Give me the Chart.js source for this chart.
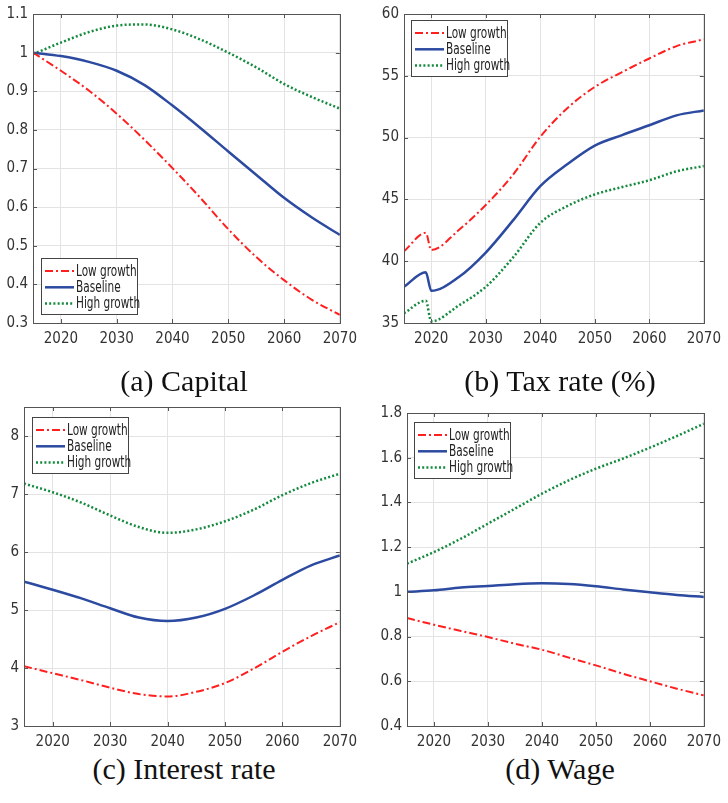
<!DOCTYPE html>
<html lang="en">
<head>
    <meta charset="UTF-8">
    <title>Growth scenarios</title>
    <script src="https://cdn.jsdelivr.net/npm/chart.js"></script>
    <style>
        body { margin: 0; background: #fff; width: 728px; height: 803px; position: relative; overflow: hidden; }
        .panel { position: absolute; width: 364px; height: 360px; }
        .caption { position: absolute; font-family: "Liberation Serif", "DejaVu Serif", serif; font-size: 30px; line-height: 30px; color: #111; transform: translateX(-50%); white-space: nowrap; }
    </style>
</head>
<body>
    <div class="panel" style="left:0;top:0"><canvas id="capital"></canvas></div>
    <div class="panel" style="left:364px;top:0"><canvas id="tax"></canvas></div>
    <div class="panel" style="left:0;top:390px"><canvas id="interest"></canvas></div>
    <div class="panel" style="left:364px;top:390px"><canvas id="wage"></canvas></div>

    <div class="caption" style="left:184px;top:366px">(a) Capital</div>
    <div class="caption" style="left:560px;top:366px">(b) Tax rate (%)</div>
    <div class="caption" style="left:184px;top:754px">(c) Interest rate</div>
    <div class="caption" style="left:560px;top:754px">(d) Wage</div>

    <script>
        // data
        const years = [2015, 2020, 2025, 2030, 2035, 2040, 2045, 2050, 2055, 2060, 2065, 2070];
        const taxYears = [2015, 2019, 2020, 2025, 2030, 2035, 2040, 2045, 2050, 2055, 2060, 2065, 2070];
        const xTicks = [2020, 2030, 2040, 2050, 2060, 2070];
        const seriesNames = ['Low growth', 'Baseline', 'High growth'];

        const capitalLow  = [1.0, 0.953, 0.902, 0.842, 0.774, 0.701, 0.624, 0.543, 0.471, 0.411, 0.360, 0.321];
        const capitalBase = [1.0, 0.991, 0.976, 0.953, 0.916, 0.863, 0.805, 0.744, 0.684, 0.624, 0.573, 0.528];
        const capitalHigh = [0.996, 1.026, 1.053, 1.070, 1.073, 1.060, 1.034, 1.000, 0.962, 0.919, 0.885, 0.855];
        const capitalTicks = [0.3, 0.4, 0.5, 0.6, 0.7, 0.8, 0.9, 1.0, 1.1];

        const taxLow  = [40.8, 42.3, 40.9, 42.5, 44.55, 47.0, 50.07, 52.4, 54.1, 55.3, 56.4, 57.4, 57.95];
        const taxBase = [37.93, 39.1, 37.6, 38.7, 40.7, 43.3, 46.07, 47.86, 49.35, 50.2, 51.0, 51.8, 52.2];
        const taxHigh = [35.8, 36.8, 35.13, 36.4, 37.93, 40.3, 43.1, 44.47, 45.4, 46.0, 46.55, 47.27, 47.7];
        const taxTicks = [35, 40, 45, 50, 55, 60];

        const interestLow  = [4.03, 3.91, 3.79, 3.66, 3.55, 3.51, 3.59, 3.74, 3.99, 4.28, 4.55, 4.79];
        const interestBase = [5.49, 5.35, 5.20, 5.03, 4.87, 4.81, 4.87, 5.02, 5.25, 5.52, 5.77, 5.94];
        const interestHigh = [7.18, 7.03, 6.85, 6.63, 6.43, 6.33, 6.39, 6.53, 6.73, 6.98, 7.19, 7.35];
        const interestTicks = [3, 4, 5, 6, 7, 8];

        const wageLow  = [0.883, 0.853, 0.825, 0.798, 0.768, 0.741, 0.706, 0.671, 0.634, 0.600, 0.567, 0.537];
        const wageBase = [1.0, 1.007, 1.019, 1.026, 1.034, 1.038, 1.035, 1.025, 1.011, 0.998, 0.986, 0.977];
        const wageHigh = [1.126, 1.178, 1.238, 1.305, 1.372, 1.439, 1.499, 1.551, 1.596, 1.645, 1.697, 1.752];
        const wageTicks = [0.4, 0.6, 0.8, 1.0, 1.2, 1.4, 1.6, 1.8];

        const tickFont = '"Liberation Sans Narrow", "DejaVu Sans Condensed", "Roboto", sans-serif';
        const styles = [
            { color: '#ff1f1f', width: 2, dash: [8, 3, 2, 3] },
            { color: '#2b4aa0', width: 2.5, dash: [] },
            { color: '#148a3e', width: 2.5, dash: [2, 2.2] }
        ];

        // box, inward ticks and legend inside the axes, MATLAB style
        const boxPlugin = {
            id: 'box',
            afterDatasetsDraw(chart, args, opts) {
                const { ctx, chartArea: a, scales } = chart;
                ctx.save();
                ctx.strokeStyle = '#555';
                ctx.lineWidth = 1;
                ctx.setLineDash([]);
                ctx.beginPath();
                scales.x.ticks.forEach(t => {
                    const px = Math.round(scales.x.getPixelForValue(t.value)) + 0.5;
                    ctx.moveTo(px, a.bottom); ctx.lineTo(px, a.bottom - 4);
                    ctx.moveTo(px, a.top); ctx.lineTo(px, a.top + 4);
                });
                scales.y.ticks.forEach(t => {
                    const py = Math.round(scales.y.getPixelForValue(t.value)) + 0.5;
                    ctx.moveTo(a.left, py); ctx.lineTo(a.left + 4, py);
                    ctx.moveTo(a.right, py); ctx.lineTo(a.right - 4, py);
                });
                ctx.stroke();
                ctx.strokeRect(Math.round(a.left) + 0.5, Math.round(a.top) + 0.5,
                    Math.round(a.right - a.left), Math.round(a.bottom - a.top));

                // legend
                const lx = Math.round(a.left + opts.dx), w = 96, h = 56;
                const ly = Math.round(opts.pos === 'bottom' ? a.bottom - opts.dy - h : a.top + opts.dy);
                ctx.fillStyle = '#fff';
                ctx.fillRect(lx, ly, w, h);
                ctx.strokeStyle = '#444';
                ctx.strokeRect(lx + 0.5, ly + 0.5, w, h);
                ctx.font = '15px ' + tickFont;
                ctx.textBaseline = 'middle';
                chart.data.datasets.forEach((ds, i) => {
                    const yy = ly + 13 + i * 16.3;
                    ctx.strokeStyle = ds.borderColor;
                    ctx.lineWidth = ds.borderWidth;
                    ctx.setLineDash(ds.borderDash);
                    ctx.beginPath();
                    ctx.moveTo(lx + 4, yy); ctx.lineTo(lx + 33, yy);
                    ctx.stroke();
                    ctx.setLineDash([]);
                    ctx.fillStyle = '#222';
                    // squeeze the label to look like the narrow MATLAB font
                    ctx.save();
                    ctx.translate(lx + 35, yy + 1);
                    ctx.scale(0.78, 1);
                    ctx.fillText(ds.label, 0, 0);
                    ctx.restore();
                });
                ctx.restore();
            }
        };

        function fmt(v) {
            return String(+v.toFixed(2));
        }

        function makeChart(id, xs, series, yMin, yMax, yTicks, plot, legend) {
            // plot = plot-area edges relative to the panel box (364 x 360)
            const yAxisW = 30, xAxisH = 22;
            new Chart(document.getElementById(id), {
                type: 'line',
                data: {
                    datasets: series.map((vals, i) => ({
                        label: seriesNames[i],
                        data: xs.map((x, j) => ({ x: x, y: vals[j] })),
                        borderColor: styles[i].color,
                        borderWidth: styles[i].width,
                        borderDash: styles[i].dash,
                        pointRadius: 0,
                        fill: false,
                        cubicInterpolationMode: 'monotone'
                    }))
                },
                options: {
                    responsive: true,
                    maintainAspectRatio: false,
                    animation: false,
                    layout: {
                        padding: {
                            left: plot.l - yAxisW,
                            right: 364 - plot.r,
                            top: plot.t,
                            bottom: 360 - plot.b - xAxisH
                        }
                    },
                    plugins: {
                        legend: { display: false },
                        tooltip: { enabled: false },
                        box: legend
                    },
                    scales: {
                        x: {
                            type: 'linear',
                            min: 2015,
                            max: 2070,
                            afterBuildTicks: s => { s.ticks = xTicks.map(v => ({ value: v })); },
                            afterFit: s => { s.height = xAxisH; },
                            border: { display: false },
                            grid: { color: '#e3e3e3', lineWidth: 1, drawTicks: false },
                            ticks: {
                                padding: 7,
                                maxRotation: 0,
                                color: '#333',
                                font: { family: tickFont, size: 15 },
                                callback: v => String(v)
                            }
                        },
                        y: {
                            min: yMin,
                            max: yMax,
                            afterBuildTicks: s => { s.ticks = yTicks.map(v => ({ value: v })); },
                            afterFit: s => { s.width = yAxisW; },
                            border: { display: false },
                            grid: { color: '#e3e3e3', lineWidth: 1, drawTicks: false },
                            ticks: {
                                padding: 5,
                                color: '#333',
                                font: { family: tickFont, size: 15 },
                                callback: v => fmt(v)
                            }
                        }
                    }
                },
                plugins: [boxPlugin]
            });
        }

        makeChart('capital', years, [capitalLow, capitalBase, capitalHigh], 0.3, 1.1, capitalTicks,
            { l: 33, r: 340, t: 11, b: 323 }, { pos: 'bottom', dx: 8, dy: 9 });
        makeChart('tax', taxYears, [taxLow, taxBase, taxHigh], 35, 60, taxTicks,
            { l: 40, r: 349, t: 11, b: 323 }, { pos: 'top', dx: 7, dy: 6 });
        makeChart('interest', years, [interestLow, interestBase, interestHigh], 3, 8.5, interestTicks,
            { l: 24, r: 340, t: 17, b: 336 }, { pos: 'top', dx: 8, dy: 10 });
        makeChart('wage', years, [wageLow, wageBase, wageHigh], 0.4, 1.8, wageTicks,
            { l: 43, r: 349, t: 23, b: 336 }, { pos: 'top', dx: 7, dy: 9 });
    </script>
</body>
</html>
